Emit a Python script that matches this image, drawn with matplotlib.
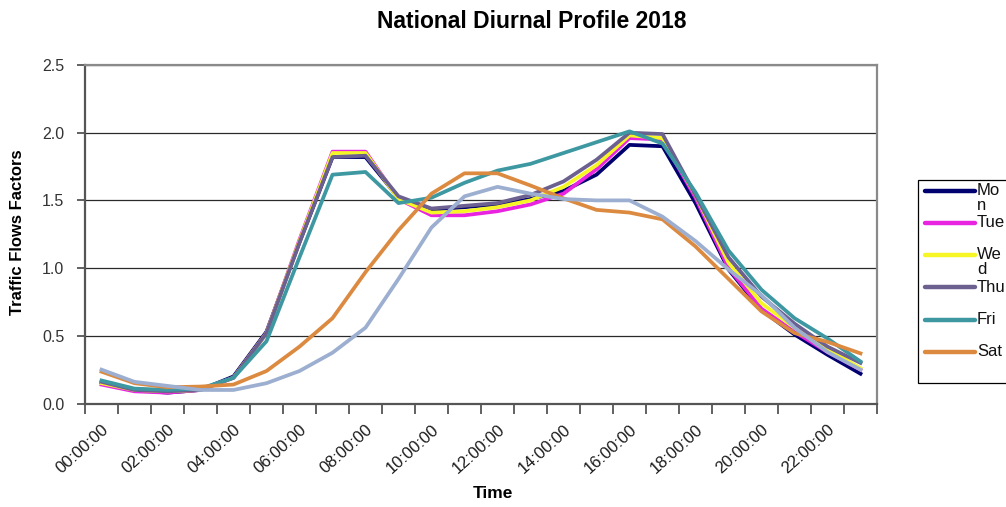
import matplotlib
matplotlib.use("Agg")
import matplotlib.pyplot as plt
import matplotlib.transforms as mtransforms
from matplotlib.lines import Line2D
from matplotlib.patches import Rectangle
import numpy as np

plt.rcParams['font.family'] = ['Liberation Sans', 'DejaVu Sans']

# Hourly categories (24 bins)
hours = ["00:00:00", "01:00:00", "02:00:00", "03:00:00", "04:00:00", "05:00:00",
         "06:00:00", "07:00:00", "08:00:00", "09:00:00", "10:00:00", "11:00:00",
         "12:00:00", "13:00:00", "14:00:00", "15:00:00", "16:00:00", "17:00:00",
         "18:00:00", "19:00:00", "20:00:00", "21:00:00", "22:00:00", "23:00:00"]

# Traffic flow factors per day of week
mon = [0.155, 0.10, 0.08, 0.10, 0.20, 0.53, 1.19, 1.82, 1.82, 1.52, 1.43, 1.45,
       1.47, 1.51, 1.57, 1.69, 1.91, 1.90, 1.48, 0.99, 0.69, 0.51, 0.36, 0.22]
tue = [0.14, 0.09, 0.08, 0.10, 0.19, 0.52, 1.21, 1.86, 1.86, 1.51, 1.39, 1.39,
       1.42, 1.47, 1.55, 1.73, 1.96, 1.95, 1.52, 1.00, 0.70, 0.53, 0.38, 0.25]
wed = [0.15, 0.10, 0.09, 0.10, 0.19, 0.52, 1.20, 1.85, 1.85, 1.51, 1.41, 1.42,
       1.45, 1.50, 1.60, 1.76, 1.98, 1.96, 1.54, 1.04, 0.74, 0.56, 0.40, 0.26]
thu = [0.16, 0.10, 0.09, 0.10, 0.19, 0.52, 1.19, 1.82, 1.83, 1.53, 1.44, 1.46,
       1.48, 1.54, 1.64, 1.80, 2.00, 1.99, 1.54, 1.08, 0.79, 0.59, 0.42, 0.30]
fri = [0.17, 0.11, 0.10, 0.11, 0.19, 0.46, 1.08, 1.69, 1.71, 1.48, 1.52, 1.63,
       1.72, 1.77, 1.85, 1.93, 2.01, 1.92, 1.56, 1.13, 0.84, 0.63, 0.48, 0.31]
sat = [0.235, 0.15, 0.12, 0.125, 0.14, 0.24, 0.42, 0.63, 0.97, 1.28, 1.55, 1.70,
       1.70, 1.61, 1.515, 1.43, 1.41, 1.36, 1.16, 0.92, 0.68, 0.52, 0.455, 0.37]
sun = [0.25, 0.16, 0.13, 0.10, 0.10, 0.15, 0.24, 0.375, 0.56, 0.92, 1.30, 1.53,
       1.60, 1.55, 1.51, 1.50, 1.50, 1.38, 1.20, 0.99, 0.80, 0.56, 0.38, 0.25]

day_names = ["Mon", "Tue", "Wed", "Thu", "Fri", "Sat", "Sun"]
# legend text as it wraps in the narrow legend box
legend_text = ["Mo\nn", "Tue", "We\nd", "Thu", "Fri", "Sat"]
series = [mon, tue, wed, thu, fri, sat, sun]
colors = ["#000070", "#E824E0", "#F6F626", "#6C6090", "#3E98A2", "#DC8A40", "#9CAFD0"]

W, H = 1006, 507
fig = plt.figure(figsize=(W / 100, H / 100), dpi=100)
fig.patch.set_facecolor("white")

# plot area in pixel units
L, R, T, B = 85, 877, 65, 403.5
ax = fig.add_axes([L / W, 1 - B / H, (R - L) / W, (B - T) / H])

x = np.arange(len(hours))
lines = []
for name, vals, c in zip(day_names, series, colors):
    ln, = ax.plot(x, vals, color=c, lw=2.7, label=name, solid_joinstyle="round")
    lines.append(ln)

ax.set_xlim(-0.5, len(hours) - 0.5)
ax.set_ylim(0, 2.5)
ax.set_yticks(np.arange(0, 2.51, 0.5))
ax.yaxis.set_major_formatter("{x:.1f}")
ax.grid(axis="y", color="#2a2a2a", lw=0.9)
ax.set_axisbelow(True)

ax.set_xticks(x[::2], labels=hours[::2], rotation=42, ha="right",
              rotation_mode="anchor")
ax.set_xticks(np.arange(-0.5, len(hours), 1), minor=True)
ax.tick_params(axis="x", which="major", length=0, pad=13, labelsize=12,
               labelcolor="#1a1a1a")
ax.tick_params(axis="x", which="minor", length=7, width=1.3, color="#555555",
               direction="out")
ax.tick_params(axis="y", length=6, width=1.3, color="#555555", pad=9,
               labelsize=11.5, labelcolor="#333333")
shift = mtransforms.ScaledTranslation(0, 0, fig.dpi_scale_trans)
for lab in ax.get_xticklabels():
    lab.set_transform(lab.get_transform() + shift)

for side in ["left", "bottom"]:
    ax.spines[side].set_color("#555555")
    ax.spines[side].set_linewidth(1.6)
for side in ["top", "right"]:
    ax.spines[side].set_color("#8a8a8a")
    ax.spines[side].set_linewidth(1.6)


def fx(px):
    return px / W


def fy(py):
    return 1 - py / H


fig.text(fx(532), fy(21), "National Diurnal Profile 2018", ha="center",
         va="center", fontsize=16.5, fontweight="bold")
fig.text(fx(18), fy(232), "Traffic Flows Factors", rotation=90, ha="center",
         va="center", fontsize=12, fontweight="bold")
fig.text(fx(493), fy(494), "Time", ha="center", va="center", fontsize=12.5,
         fontweight="bold")

# legend box, running off the right edge of the figure
fig.add_artist(Rectangle((fx(918), fy(383)), fx(1020) - fx(918), fy(180) - fy(383),
                         transform=fig.transFigure, facecolor="white",
                         edgecolor="black", lw=0.9))
entry_y = [190.7, 222.5, 255, 287.3, 319.8, 352]
for ln, txt, yy in zip(lines[:6], legend_text, entry_y):
    fig.add_artist(Line2D([fx(925), fx(975)], [fy(yy), fy(yy)],
                          transform=fig.transFigure, color=ln.get_color(),
                          lw=3.2, solid_capstyle="round"))
    if "\n" in txt:
        fig.text(fx(977), fy(yy - 8), txt, ha="left", va="top", fontsize=12,
                 linespacing=1.0, color="#111111")
    else:
        fig.text(fx(977), fy(yy), txt, ha="left", va="center", fontsize=12,
                 color="#111111")

fig.savefig("out.png", dpi=100, facecolor="white")
